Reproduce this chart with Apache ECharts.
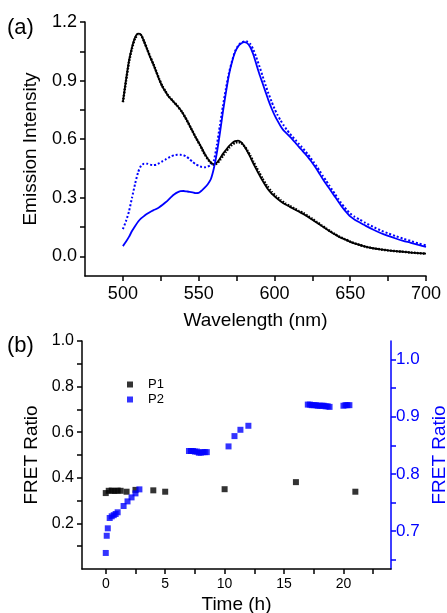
<!DOCTYPE html>
<html>
<head>
<meta charset="utf-8">
<script src="https://cdn.jsdelivr.net/npm/echarts@6/dist/echarts.min.js"></script>
<style>
html,body{margin:0;padding:0;background:#fff;}
#chart{width:447px;height:613px;}
</style>
</head>
<body>
<div id="chart"></div>
<script>
// ---- Panel (a): emission spectra ----
var blackSolidWl = [500,502,504,506,508,510,512,514,516,518,520,522,524,526,528,530,533,536,539,542,545,548,551,554,557,560,562,564,566,568,570,572,574,576,578,580,582,584,586,588,590,592,595,598,601,604,607,610,613,616,619,622,625,628,631,634,637,640,643,646,650,655,660,665,670,675,680,685,690,695,700];
var blackSolidVal = [0.79,0.90,1.00,1.07,1.12,1.14,1.135,1.10,1.06,1.02,0.985,0.945,0.905,0.87,0.845,0.82,0.795,0.77,0.74,0.70,0.655,0.61,0.57,0.525,0.49,0.472,0.48,0.50,0.525,0.545,0.565,0.58,0.59,0.593,0.585,0.565,0.54,0.51,0.477,0.447,0.418,0.39,0.352,0.323,0.302,0.283,0.267,0.255,0.242,0.23,0.218,0.203,0.188,0.172,0.157,0.142,0.126,0.112,0.099,0.089,0.075,0.062,0.05,0.042,0.036,0.031,0.027,0.024,0.02,0.017,0.014];

var blackDotWl = [500,502,504,506,508,510,512,514,516,518,520,522,524,526,528,530,533,536,539,542,545,548,551,554,557,560,562,564,566,568,570,572,574,576,578,580,582,584,586,588,590,592,595,598,601,604,607,610,613,616,619,622,625,628,631,634,637,640,643,646,650,655,660,665,670,675,680,685,690,695,700];
var blackDotVal = [0.79,0.895,0.995,1.065,1.115,1.137,1.133,1.10,1.062,1.022,0.987,0.947,0.907,0.872,0.846,0.822,0.796,0.77,0.74,0.70,0.655,0.61,0.568,0.523,0.488,0.47,0.476,0.493,0.515,0.537,0.556,0.571,0.582,0.586,0.582,0.566,0.544,0.516,0.486,0.456,0.428,0.40,0.362,0.332,0.309,0.289,0.272,0.259,0.246,0.234,0.222,0.207,0.192,0.176,0.16,0.144,0.128,0.114,0.10,0.09,0.076,0.062,0.05,0.042,0.036,0.031,0.027,0.024,0.02,0.017,0.014];

var blueSolidWl = [500,502,504,506,508,510,512,514,516,518,520,522,524,526,528,530,532,534,536,538,540,542,544,546,548,550,552,554,556,558,560,562,564,566,568,570,572,574,576,578,580,582,584,586,588,590,592,594,596,598,600,602,604,606,608,610,612,614,616,618,620,622,624,626,628,630,632,634,636,638,640,642,644,646,648,650,653,656,660,665,670,675,680,685,690,695,700];
var blueSolidVal = [0.053,0.075,0.10,0.13,0.155,0.178,0.195,0.207,0.218,0.228,0.236,0.243,0.252,0.263,0.276,0.29,0.305,0.318,0.328,0.334,0.335,0.333,0.331,0.328,0.324,0.325,0.337,0.352,0.37,0.395,0.45,0.53,0.63,0.74,0.84,0.93,0.995,1.045,1.075,1.09,1.097,1.092,1.072,1.035,0.985,0.935,0.89,0.845,0.80,0.76,0.725,0.695,0.668,0.645,0.63,0.615,0.598,0.58,0.562,0.545,0.528,0.51,0.49,0.468,0.445,0.42,0.395,0.372,0.35,0.327,0.305,0.282,0.26,0.24,0.222,0.205,0.188,0.175,0.158,0.138,0.12,0.105,0.092,0.08,0.07,0.059,0.049];

var blueDotWl = [500,502,504,506,508,510,512,514,516,518,520,522,524,526,528,530,532,534,536,538,540,542,544,546,548,550,552,554,556,558,560,562,564,566,568,570,572,574,576,578,580,582,584,586,588,590,592,594,596,598,600,602,604,606,608,610,612,614,616,618,620,622,624,626,628,630,632,634,636,638,640,642,644,646,648,650,653,656,660,665,670,675,680,685,690,695,700];
var blueDotVal = [0.14,0.18,0.23,0.30,0.37,0.43,0.465,0.475,0.475,0.47,0.468,0.47,0.478,0.487,0.496,0.505,0.513,0.518,0.52,0.52,0.518,0.51,0.498,0.484,0.472,0.464,0.458,0.456,0.46,0.468,0.49,0.57,0.67,0.77,0.86,0.94,1.0,1.05,1.078,1.094,1.10,1.10,1.088,1.06,1.02,0.975,0.928,0.88,0.835,0.795,0.757,0.725,0.697,0.672,0.65,0.63,0.612,0.595,0.577,0.56,0.542,0.523,0.503,0.482,0.46,0.436,0.412,0.389,0.365,0.342,0.319,0.296,0.274,0.254,0.236,0.22,0.203,0.19,0.172,0.152,0.134,0.118,0.104,0.091,0.079,0.067,0.057];

var topXTicks = [500,525,550,575,600,625,650,675,700];
var topXLabels = [500,550,600,650,700];
var topYTicks = [0,0.15,0.3,0.45,0.6,0.75,0.9,1.05,1.2];
var topYLabels = [0,0.3,0.6,0.9,1.2];

// ---- Panel (b): FRET ratio vs time ----
var p1Time = [0,0.25,0.5,0.75,1.0,1.25,1.75,2.5,4,5,10,16,21];
var p1Val  = [0.333,0.343,0.344,0.342,0.344,0.343,0.339,0.347,0.345,0.339,0.35,0.381,0.339];

var p2Time = [0,0.08,0.17,0.33,0.5,0.67,0.83,1.0,1.5,1.83,2.17,2.5,2.83,
              7.0,7.17,7.33,7.5,7.67,7.83,8.0,8.17,8.33,8.5,
              10.33,10.83,11.33,12.0,
              17.0,17.17,17.33,17.5,17.67,17.83,18.0,18.17,18.33,18.5,18.67,18.83,
              20.0,20.17,20.33,20.5];
var p2Val  = [0.662,0.692,0.705,0.723,0.726,0.728,0.730,0.733,0.744,0.752,0.759,0.766,0.773,
              0.840,0.840,0.840,0.839,0.839,0.837,0.837,0.838,0.838,0.838,
              0.848,0.866,0.877,0.884,
              0.921,0.921,0.920,0.920,0.920,0.919,0.919,0.919,0.919,0.918,0.918,0.917,
              0.919,0.920,0.920,0.920];

var botXTicks = [0,2.5,5,7.5,10,12.5,15,17.5,20,22.5];
var botXLabels = [0,5,10,15,20];
var botYTicks = [0.1,0.2,0.3,0.4,0.5,0.6,0.7,0.8,0.9,1.0];
var botYLabels = [0.2,0.4,0.6,0.8,1.0];
var botY2Ticks = [0.65,0.7,0.75,0.8,0.85,0.9,0.95,1.0];
var botY2Labels = [0.7,0.8,0.9,1.0];

function zip(a,b){ return a.map(function(v,i){ return [v,b[i]]; }); }

var FONT = "Arial, 'Liberation Sans', sans-serif";
var BLUE = '#0000ff';
var axisLineStyle = {color:'#000', width:1.5};

var chart = echarts.init(document.getElementById('chart'), null, {renderer:'canvas'});
var option = {
  animation:false,
  backgroundColor:'#fff',
  textStyle:{fontFamily:FONT},
  grid:[
    {left:85, top:22, width:341, height:254, containLabel:false, outerBoundsMode:'none'},
    {left:82, top:341, width:309, height:228, containLabel:false, outerBoundsMode:'none'}
  ],
  graphic:[
    {type:'text', left:7, top:17, style:{text:'(a)', font:'22px ' + FONT, fill:'#000'}},
    {type:'text', left:7, top:335, style:{text:'(b)', font:'22px ' + FONT, fill:'#000'}}
  ],
  legend:{
    data:['P1','P2'], orient:'vertical', left:122, top:373,
    itemWidth:6, itemHeight:6, itemGap:2, icon:'rect',
    textStyle:{fontSize:13, color:'#000', fontFamily:FONT, padding:[0,0,0,10]}
  },
  xAxis:[
    {type:'value', gridIndex:0, min:475, max:700,
     axisLine:{onZero:false, lineStyle:axisLineStyle},
     axisTick:{customValues:topXTicks, length:5, lineStyle:axisLineStyle},
     axisLabel:{customValues:topXLabels, fontSize:18, color:'#000', margin:9, fontFamily:FONT},
     splitLine:{show:false},
     name:'Wavelength (nm)', nameLocation:'middle', nameGap:35,
     nameTextStyle:{fontSize:19, color:'#000', fontFamily:FONT}},
    {type:'value', gridIndex:1, min:-2, max:24,
     axisLine:{onZero:false, lineStyle:axisLineStyle},
     axisTick:{customValues:botXTicks, length:5, lineStyle:axisLineStyle},
     axisLabel:{customValues:botXLabels, fontSize:14, color:'#000', margin:8, fontFamily:FONT},
     splitLine:{show:false},
     name:'Time (h)', nameLocation:'middle', nameGap:26,
     nameTextStyle:{fontSize:19, color:'#000', fontFamily:FONT}}
  ],
  yAxis:[
    {type:'value', gridIndex:0, min:-0.1, max:1.2,
     axisLine:{show:true, onZero:false, lineStyle:axisLineStyle},
     axisTick:{show:true, customValues:topYTicks, length:5, lineStyle:axisLineStyle},
     axisLabel:{customValues:topYLabels, fontSize:18, color:'#000', margin:8, fontFamily:FONT,
       formatter:function(v){return Number(v).toFixed(1);}},
     splitLine:{show:false},
     name:'Emission Intensity', nameLocation:'middle', nameGap:45, nameRotate:90,
     nameTextStyle:{fontSize:19, color:'#000', fontFamily:FONT}},
    {type:'value', gridIndex:1, min:0, max:1.0,
     axisLine:{show:true, onZero:false, lineStyle:axisLineStyle},
     axisTick:{show:true, customValues:botYTicks, length:5, lineStyle:axisLineStyle},
     axisLabel:{customValues:botYLabels, fontSize:16, color:'#000', margin:8, fontFamily:FONT,
       formatter:function(v){return Number(v).toFixed(1);}},
     splitLine:{show:false},
     name:'FRET Ratio', nameLocation:'middle', nameGap:30, nameRotate:90,
     nameTextStyle:{fontSize:19, color:'#000', fontFamily:FONT}},
    {type:'value', gridIndex:1, position:'right', min:0.634, max:1.032,
     axisLine:{show:true, onZero:false, lineStyle:{color:BLUE, width:1.5}},
     axisTick:{show:true, customValues:botY2Ticks, length:5, lineStyle:{color:BLUE, width:1.5}},
     axisLabel:{customValues:botY2Labels, fontSize:17, color:BLUE, margin:5, fontFamily:FONT,
       formatter:function(v){return Number(v).toFixed(1);}},
     splitLine:{show:false},
     name:'FRET Ratio', nameLocation:'middle', nameGap:38, nameRotate:90,
     nameTextStyle:{fontSize:19, color:BLUE, fontFamily:FONT}}
  ],
  series:[
    {name:'blackDot', type:'line', xAxisIndex:0, yAxisIndex:0, data:zip(blackDotWl, blackDotVal),
     symbol:'none', smooth:0.2, lineStyle:{color:'#000', width:2.5, type:[1.5,1.5]}, z:2},
    {name:'blackSolid', type:'line', xAxisIndex:0, yAxisIndex:0, data:zip(blackSolidWl, blackSolidVal),
     symbol:'none', smooth:0.2, lineStyle:{color:'#000', width:1.8}, z:3},
    {name:'blueDot', type:'line', xAxisIndex:0, yAxisIndex:0, data:zip(blueDotWl, blueDotVal),
     symbol:'none', smooth:0.2, lineStyle:{color:BLUE, width:2, type:[2,2]}, z:2},
    {name:'blueSolid', type:'line', xAxisIndex:0, yAxisIndex:0, data:zip(blueSolidWl, blueSolidVal),
     symbol:'none', smooth:0.2, lineStyle:{color:BLUE, width:1.8}, z:3},
    {name:'P1', type:'scatter', xAxisIndex:1, yAxisIndex:1, data:zip(p1Time, p1Val),
     symbol:'rect', symbolSize:6, itemStyle:{color:'#000'}},
    {name:'P2', type:'scatter', xAxisIndex:1, yAxisIndex:2, data:zip(p2Time, p2Val),
     symbol:'rect', symbolSize:6, itemStyle:{color:BLUE}}
  ]
};
chart.setOption(option);
</script>
</body>
</html>
